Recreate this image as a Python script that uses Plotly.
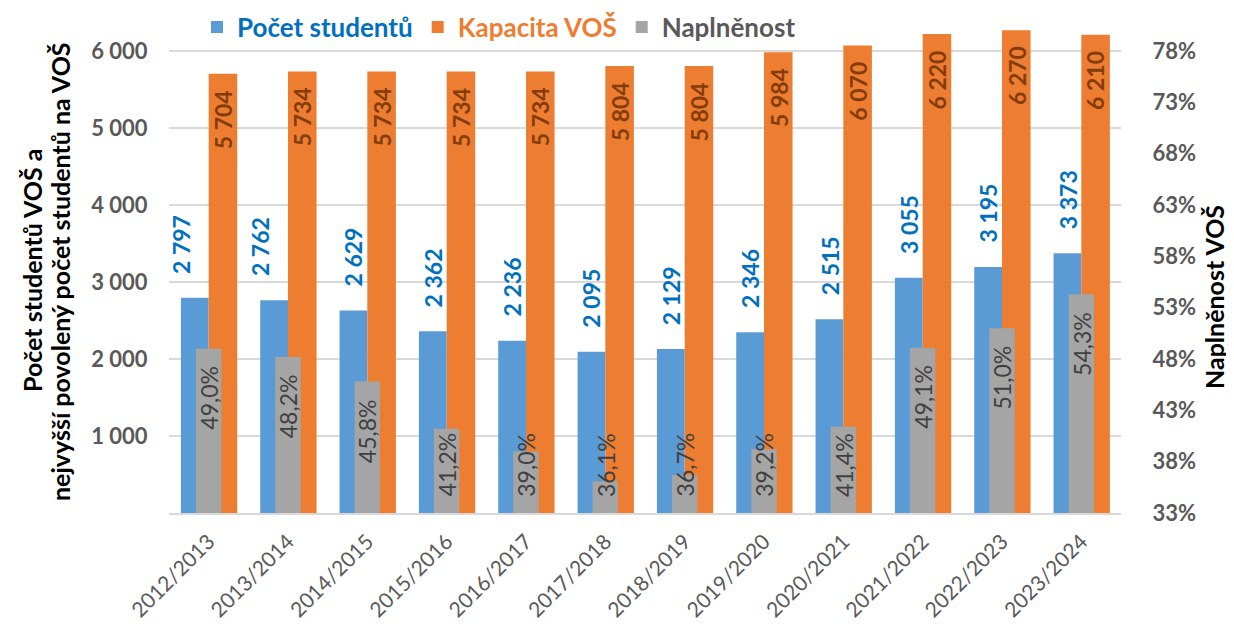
import plotly.graph_objects as go

# ---- data ----
years = ["2012/2013", "2013/2014", "2014/2015", "2015/2016", "2016/2017", "2017/2018",
         "2018/2019", "2019/2020", "2020/2021", "2021/2022", "2022/2023", "2023/2024"]
students = [2797, 2762, 2629, 2362, 2236, 2095, 2129, 2346, 2515, 3055, 3195, 3373]
capacity = [5704, 5734, 5734, 5734, 5734, 5804, 5804, 5984, 6070, 6220, 6270, 6210]
fill_pct = [49.0, 48.2, 45.8, 41.2, 39.0, 36.1, 36.7, 39.2, 41.4, 49.1, 51.0, 54.3]

left_ticks = [1000, 2000, 3000, 4000, 5000, 6000]
right_ticks = [33, 38, 43, 48, 53, 58, 63, 68, 73, 78]

# ---- style ----
FONT = "Lato"
BLUE, ORANGE, GRAY = "#5B9BD5", "#ED7D31", "#A5A5A5"
BLUE_TXT, ORANGE_TXT, GRAY_TXT, AXIS_TXT = "#0070C0", "#843C0C", "#404040", "#595959"
blue_label_nudge = [-0.175, -0.175] + [0.0] * 10   # first two labels shifted left

# page has an 8px body margin; figure is sized to fit the window
PAGE_OFF = 8
W, H = 1234 - PAGE_OFF, 624 - PAGE_OFF
PLOT_L, PLOT_R, PLOT_T, PLOT_B = 169, 1121, 20, 513   # page pixels
ML, MR = PLOT_L - PAGE_OFF, (W + PAGE_OFF) - PLOT_R
MT, MB = PLOT_T - PAGE_OFF, (H + PAGE_OFF) - PLOT_B
plot_w = PLOT_R - PLOT_L
plot_h = PLOT_B - PLOT_T
px_per_unit_left = (513 - 51) / 6000.0
px_per_pct = (513 - 51) / 45.0
left_max = plot_h / px_per_unit_left
right_max = 33 + plot_h / px_per_pct


def px(x):
    return (x - PLOT_L) / plot_w


def py(y):
    return (PLOT_B - y) / plot_h


idx = list(range(len(years)))


def fmt_thousands(v):
    return f"{v:,}".replace(",", " ")


fig = go.Figure()
fig.add_trace(go.Bar(
    x=idx, y=students, name=f"<span style='color:{BLUE_TXT}'>Počet studentů</span>",
    marker=dict(color=BLUE, line=dict(width=0)), width=0.35, offset=-0.35,
    yaxis="y", hoverinfo="y"))
fig.add_trace(go.Bar(
    x=idx, y=capacity, name=f"<span style='color:{ORANGE}'>Kapacita VOŠ</span>",
    marker=dict(color=ORANGE, line=dict(width=0)), width=0.36, offset=0.0,
    yaxis="y", hoverinfo="y"))
fig.add_trace(go.Bar(
    x=idx, y=fill_pct, name=f"<span style='color:{AXIS_TXT}'>Naplněnost</span>",
    marker=dict(color=GRAY, line=dict(width=0)), width=0.32, offset=-0.16,
    yaxis="y2", hoverinfo="y"))

ann = []
for i in idx:
    ann.append(dict(x=i - 0.175 + blue_label_nudge[i], y=students[i], xref="x", yref="y",
                    text=f"<b>{fmt_thousands(students[i])}</b>", textangle=-90,
                    showarrow=False, xanchor="center", yanchor="bottom", yshift=22,
                    font=dict(family=FONT, size=23, color=BLUE_TXT)))
    ann.append(dict(x=i + 0.18, y=capacity[i], xref="x", yref="y",
                    text=f"<b>{fmt_thousands(capacity[i])}</b>", textangle=-90,
                    showarrow=False, xanchor="center", yanchor="top", yshift=-14,
                    font=dict(family=FONT, size=23, color=ORANGE_TXT)))
    centre = max(fill_pct[i] - 4.8, 37.7)
    ann.append(dict(x=i, y=centre, xref="x", yref="y2",
                    text=f"{fill_pct[i]:.1f}%".replace(".", ","), textangle=-90,
                    showarrow=False, xanchor="center", yanchor="middle",
                    font=dict(family=FONT, size=23, color=GRAY_TXT)))

title_font = dict(family=FONT, size=25, color="#000000")
ann.append(dict(x=px(32), y=py(270), xref="paper", yref="paper",
                text="<b>Počet studentů VOŠ a</b>", textangle=-90, showarrow=False,
                xanchor="center", yanchor="middle", font=title_font))
ann.append(dict(x=px(60), y=py(272), xref="paper", yref="paper",
                text="<b>nejvyšší povolený počet studentů na VOŠ</b>", textangle=-90,
                showarrow=False, xanchor="center", yanchor="middle", font=title_font))
ann.append(dict(x=px(1214), y=py(297), xref="paper", yref="paper",
                text="<b>Naplněnost VOŠ</b>", textangle=-90, showarrow=False,
                xanchor="center", yanchor="middle", font=title_font))

fig.update_layout(
    width=W, height=H,
    margin=dict(l=ML, r=MR, t=MT, b=MB, autoexpand=False),
    paper_bgcolor="white", plot_bgcolor="white",
    barmode="overlay",
    font=dict(family=FONT, color=AXIS_TXT),
    showlegend=True,
    legend=dict(orientation="h", x=px(197), xanchor="left",
                y=py(27), yanchor="middle",
                font=dict(family=FONT, size=26, color=AXIS_TXT, weight="bold"),
                bgcolor="rgba(0,0,0,0)", itemclick=False, traceorder="normal"),
    xaxis=dict(type="linear", range=[-0.5, len(years) - 0.5],
               tickvals=idx, ticktext=years, tickangle=-45,
               tickfont=dict(family=FONT, size=21, color=AXIS_TXT),
               showgrid=False, showline=True, linecolor="#D9D9D9", linewidth=2,
               ticks="outside", ticklen=6, tickcolor="rgba(0,0,0,0)", zeroline=False),
    yaxis=dict(range=[0, left_max], tickvals=left_ticks,
               ticktext=[fmt_thousands(v) for v in left_ticks],
               tickfont=dict(family=FONT, size=22, color=AXIS_TXT, weight="bold"),
               showgrid=True, gridcolor="#D9D9D9", gridwidth=1.5, zeroline=False,
               showline=False, ticks="outside", ticklen=16, tickcolor="rgba(0,0,0,0)"),
    yaxis2=dict(range=[33, right_max], overlaying="y", side="right",
                tickvals=right_ticks, ticktext=[f"{v}%" for v in right_ticks],
                tickfont=dict(family=FONT, size=22, color=AXIS_TXT, weight="bold"),
                showgrid=False, zeroline=False, showline=False,
                ticks="outside", ticklen=26, tickcolor="rgba(0,0,0,0)"),
    annotations=ann,
)

fig.write_html("out.html")
